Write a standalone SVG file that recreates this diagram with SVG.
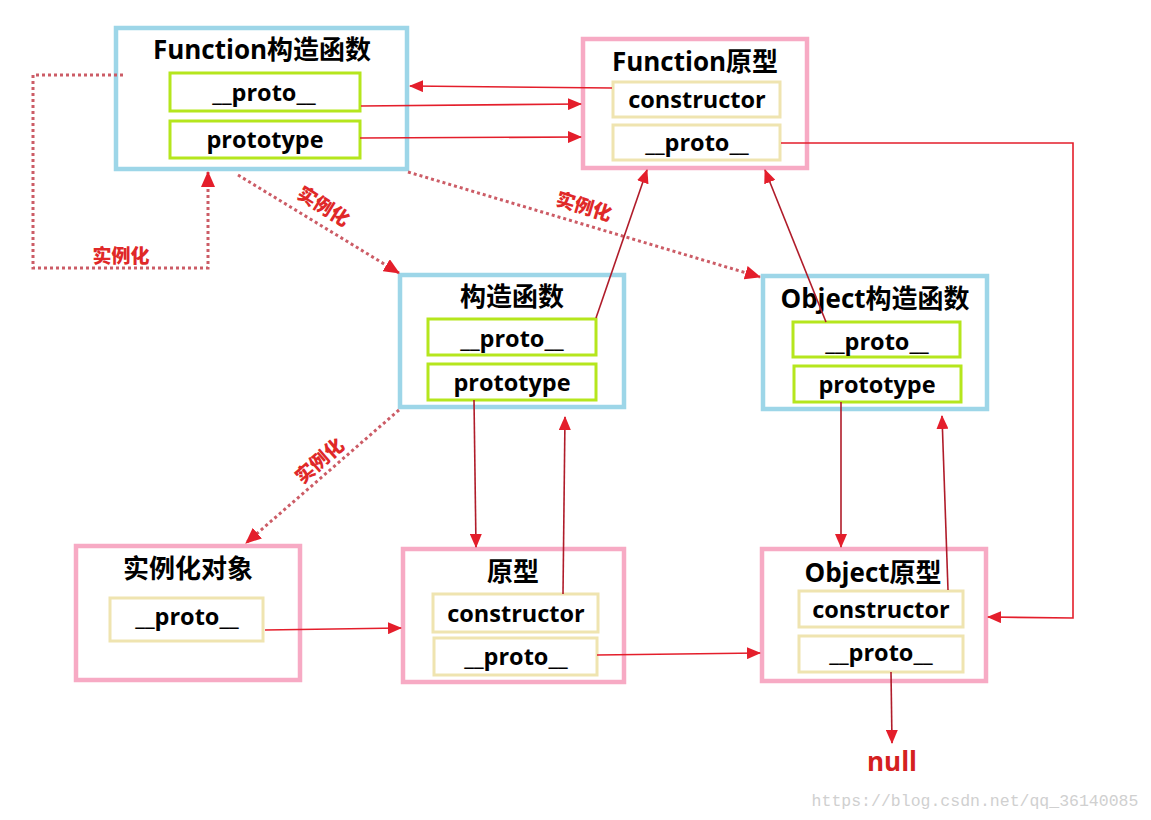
<svg xmlns="http://www.w3.org/2000/svg" width="1151" height="820" viewBox="0 0 1151 820">
<defs>
<marker id="ah" viewBox="0 0 14 12" refX="13" refY="6" markerWidth="14" markerHeight="12" markerUnits="userSpaceOnUse" orient="auto">
<path d="M0,0 L14,6 L0,12 z" fill="#e41e2b"/>
</marker>
<marker id="ahd" viewBox="0 0 16 14" refX="15" refY="7" markerWidth="16" markerHeight="14" markerUnits="userSpaceOnUse" orient="auto">
<path d="M0,0 L16,7 L0,14 z" fill="#e41e2b"/>
</marker>
</defs>
<style>
.blue{fill:#fff;stroke:#9dd6e8;stroke-width:4.5}
.pink{fill:#fff;stroke:#f7aac4;stroke-width:4.5}
.green{fill:#fff;stroke:#b5e61d;stroke-width:3}
.beige{fill:#fff;stroke:#efe4b0;stroke-width:3}
.t{font-family:"Open Sans","Noto Sans CJK SC",sans-serif;font-weight:bold;font-size:26px;fill:#000;text-anchor:middle}
.f{font-family:"Open Sans","Noto Sans CJK SC",sans-serif;font-weight:bold;font-size:23.5px;fill:#000;text-anchor:middle}
.lbl{font-family:"Noto Sans CJK SC",sans-serif;font-weight:900;font-size:19px;fill:#e02828;text-anchor:middle}
.ln{fill:none;stroke:#e41e2b;stroke-width:1.6}
.dk{fill:none;stroke:#b01c2a;stroke-width:1.6}
.dot{fill:none;stroke:#cc5c66;stroke-width:3;stroke-dasharray:3 3}
</style>
<g id="function-ctor">
<rect class="blue" x="116" y="28" width="291" height="141"/>
<text class="t" x="262" y="59">Function构造函数</text>
<rect class="green" x="170" y="73" width="190" height="38"/>
<text class="f" x="264" y="101">__proto__</text>
<rect class="green" x="170" y="121" width="190" height="37"/>
<text class="f" x="265" y="148">prototype</text>
</g>
<g id="function-proto">
<rect class="pink" x="583" y="39" width="224" height="129"/>
<text class="t" x="695" y="71">Function原型</text>
<rect class="beige" x="613" y="82" width="167" height="35"/>
<text class="f" x="697" y="108">constructor</text>
<rect class="beige" x="613" y="125" width="167" height="35"/>
<text class="f" x="697" y="151">__proto__</text>
</g>
<g id="ctor">
<rect class="blue" x="400" y="275" width="224" height="132"/>
<text class="t" x="512" y="306">构造函数</text>
<rect class="green" x="428" y="319" width="168" height="36"/>
<text class="f" x="512" y="347">__proto__</text>
<rect class="green" x="428" y="364" width="168" height="36"/>
<text class="f" x="512" y="391">prototype</text>
</g>
<g id="object-ctor">
<rect class="blue" x="763" y="276" width="224" height="133"/>
<text class="t" x="875" y="308">Object构造函数</text>
<rect class="green" x="793" y="322" width="167" height="35"/>
<text class="f" x="877" y="350">__proto__</text>
<rect class="green" x="794" y="366" width="167" height="36"/>
<text class="f" x="877" y="393">prototype</text>
</g>
<g id="instance">
<rect class="pink" x="76" y="546" width="224" height="134"/>
<text class="t" x="188" y="578">实例化对象</text>
<rect class="beige" x="110" y="598" width="153" height="43"/>
<text class="f" x="187" y="625">__proto__</text>
</g>
<g id="proto">
<rect class="pink" x="403" y="549" width="221" height="133"/>
<text class="t" x="513" y="581">原型</text>
<rect class="beige" x="433" y="594" width="165" height="38"/>
<text class="f" x="516" y="622">constructor</text>
<rect class="beige" x="434" y="638" width="163" height="37"/>
<text class="f" x="516" y="665">__proto__</text>
</g>
<g id="object-proto">
<rect class="pink" x="762" y="549" width="224" height="132"/>
<text class="t" x="873" y="582">Object原型</text>
<rect class="beige" x="799" y="591" width="164" height="36"/>
<text class="f" x="881" y="618">constructor</text>
<rect class="beige" x="799" y="636" width="164" height="36"/>
<text class="f" x="881" y="661">__proto__</text>
</g>
<g id="null">
<text x="892" y="771" style="font-family:'Open Sans',sans-serif;font-weight:bold;font-size:26px;fill:#d42020;text-anchor:middle">null</text>
</g>
<g id="connectors">
<path class="dot" d="M123,75 H33 V268 H208 V172" marker-end="url(#ahd)"/>
<path class="dot" d="M238,175 L399,273" marker-end="url(#ahd)"/>
<path class="dot" d="M408,172 L760,277" marker-end="url(#ahd)"/>
<path class="dot" d="M399,410 L246,543" marker-end="url(#ahd)"/>
<path class="ln" d="M612,88 L410,86" marker-end="url(#ah)"/>
<path class="ln" d="M361,106 L581,104" marker-end="url(#ah)"/>
<path class="ln" d="M360,138 L581,137" marker-end="url(#ah)"/>
<path class="ln" d="M781,143 H1073 V618 L988,617" marker-end="url(#ah)"/>
<path class="dk" d="M596,318 L647,170" marker-end="url(#ah)"/>
<path class="dk" d="M826,322 L765,170" marker-end="url(#ah)"/>
<path class="dk" d="M474,400 L476,547" marker-end="url(#ah)"/>
<path class="dk" d="M563,594 L565,417" marker-end="url(#ah)"/>
<path class="dk" d="M841,402 L841,547" marker-end="url(#ah)"/>
<path class="dk" d="M948,590 L942,416" marker-end="url(#ah)"/>
<path class="ln" d="M265,630 L401,628" marker-end="url(#ah)"/>
<path class="ln" d="M597,655 L760,653" marker-end="url(#ah)"/>
<path class="dk" d="M891,672 L892,743" marker-end="url(#ah)"/>
<text class="lbl" x="121" y="263">实例化</text>
<text class="lbl" transform="translate(320,212) rotate(32)">实例化</text>
<text class="lbl" transform="translate(582,213) rotate(17)">实例化</text>
<text class="lbl" transform="translate(324,466) rotate(-41)">实例化</text>
</g>
<text x="975" y="806" style="font-family:'Liberation Mono',monospace;font-size:16.5px;fill:#d0d0d0;text-anchor:middle">https://blog.csdn.net/qq_36140085</text>
</svg>
